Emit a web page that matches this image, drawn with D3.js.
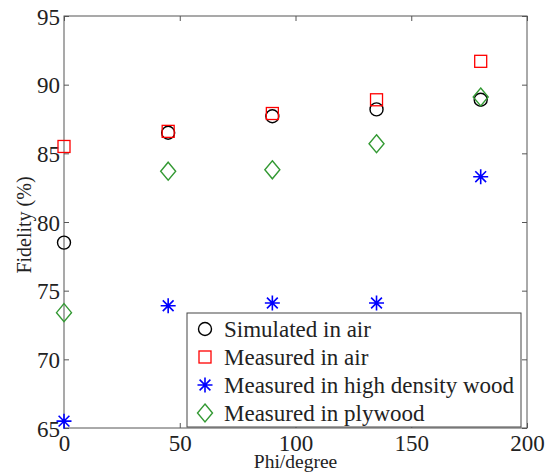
<!DOCTYPE html>
<html>
<head>
<meta charset="utf-8">
<script src="https://cdn.jsdelivr.net/npm/d3@7"></script>
<style>
  body { margin: 0; background: #fff; }
</style>
</head>
<body>
<div id="chart"></div>
<script>
// data
const phi = [0, 45, 90, 135, 180];
const simulatedAir = [78.5, 86.5, 87.7, 88.2, 88.9];
const measuredAir = [85.5, 86.6, 87.9, 88.9, 91.7];
const highDensityWood = [65.5, 73.9, 74.1, 74.1, 83.3];
const plywood = [73.4, 83.7, 83.8, 85.7, 89.1];

const xTicks = [0, 50, 100, 150, 200];
const yTicks = [65, 70, 75, 80, 85, 90, 95];

const seriesNames = ["Simulated in air", "Measured in air", "Measured in high density wood", "Measured in plywood"];

const serif = "'Liberation Serif', 'DejaVu Serif', 'Times New Roman', serif";

const svg = d3.select("#chart").append("svg")
    .attr("width", 555)
    .attr("height", 474)
    .style("font-family", serif);

const margin = {top: 16, right: 28, bottom: 46, left: 64},
    width = 555 - margin.left - margin.right,
    height = 474 - margin.top - margin.bottom;

const x = d3.scaleLinear().domain([0, 200]).range([0, width]);
const y = d3.scaleLinear().domain([65, 95]).range([height, 0]);

const g = svg.append("g")
    .attr("transform", "translate(" + margin.left + "," + margin.top + ")");

const axisColor = "#555";

// box
g.append("rect")
    .attr("width", width)
    .attr("height", height)
    .attr("fill", "none")
    .attr("stroke", axisColor)
    .attr("stroke-width", 1);

// inward ticks on all four sides
function styleAxis(sel) {
    sel.attr("font-family", null);
    sel.select(".domain").remove();
    sel.selectAll(".tick line").attr("stroke", axisColor);
    sel.selectAll(".tick text")
        .style("font-family", serif)
        .style("font-size", "23px")
        .attr("fill", "#222");
}

g.append("g")
    .attr("transform", "translate(0," + height + ")")
    .call(d3.axisBottom(x).tickValues(xTicks).tickSizeInner(-5).tickPadding(6))
    .call(styleAxis)
    .selectAll(".tick text").attr("dy", "0.72em");

g.append("g")
    .call(d3.axisTop(x).tickValues(xTicks).tickSizeInner(-5).tickFormat(""))
    .call(styleAxis);

g.append("g")
    .call(d3.axisLeft(y).tickValues(yTicks).tickSizeInner(-5).tickPadding(4))
    .call(styleAxis)
    .selectAll(".tick text").attr("dy", "0.35em");

g.append("g")
    .attr("transform", "translate(" + width + ",0)")
    .call(d3.axisRight(y).tickValues(yTicks).tickSizeInner(-5).tickFormat(""))
    .call(styleAxis);

// axis labels
svg.append("text")
    .attr("x", margin.left + width / 2)
    .attr("y", 468)
    .attr("text-anchor", "middle")
    .style("font-family", serif)
    .style("font-size", "19.5px")
    .attr("fill", "#222")
    .text("Phi/degree");

svg.append("text")
    .attr("transform", "translate(31," + (margin.top + height / 2 + 3) + ") rotate(-90)")
    .attr("text-anchor", "middle")
    .style("font-family", serif)
    .style("font-size", "20px")
    .attr("fill", "#222")
    .text("Fidelity (%)");

// marker drawers
const markers = {
    circle: function(sel) {
        sel.append("circle").attr("r", 6.5)
            .attr("fill", "none").attr("stroke", "#000").attr("stroke-width", 1.4);
    },
    square: function(sel) {
        sel.append("rect").attr("x", -6).attr("y", -6).attr("width", 12).attr("height", 12)
            .attr("fill", "none").attr("stroke", "#f00").attr("stroke-width", 1.3);
    },
    star: function(sel) {
        const r = 7.5, d = r * 0.72;
        sel.append("path")
            .attr("d", `M${-r},0L${r},0M0,${-r}L0,${r}M${-d},${-d}L${d},${d}M${-d},${d}L${d},${-d}`)
            .attr("fill", "none").attr("stroke", "#0000ff").attr("stroke-width", 1.6);
    },
    diamond: function(sel) {
        sel.append("path")
            .attr("d", "M0,-9L7.5,0L0,9L-7.5,0Z")
            .attr("fill", "none").attr("stroke", "#339933").attr("stroke-width", 1.4);
    }
};

const series = [
    {values: simulatedAir, marker: "circle"},
    {values: measuredAir, marker: "square"},
    {values: highDensityWood, marker: "star"},
    {values: plywood, marker: "diamond"}
];

series.forEach(function(s) {
    g.selectAll(".pt-" + s.marker)
        .data(phi.map((p, i) => ({phi: p, v: s.values[i]})))
        .enter().append("g")
        .attr("class", "pt-" + s.marker)
        .attr("transform", d => "translate(" + x(d.phi) + "," + y(d.v) + ")")
        .each(function() { markers[s.marker](d3.select(this)); });
});

// legend
const legend = svg.append("g").attr("transform", "translate(187,313)");
legend.append("rect")
    .attr("width", 334)
    .attr("height", 114)
    .attr("fill", "#fff")
    .attr("stroke", "#444")
    .attr("stroke-width", 1);

series.forEach(function(s, i) {
    const row = legend.append("g").attr("transform", "translate(0," + (16 + i * 28) + ")");
    const m = row.append("g").attr("transform", "translate(18,0)");
    markers[s.marker](m);
    row.append("text")
        .attr("x", 37)
        .attr("dy", "0.35em")
        .style("font-family", serif)
        .style("font-size", "23px")
        .attr("fill", "#222")
        .text(seriesNames[i]);
});
</script>
</body>
</html>
